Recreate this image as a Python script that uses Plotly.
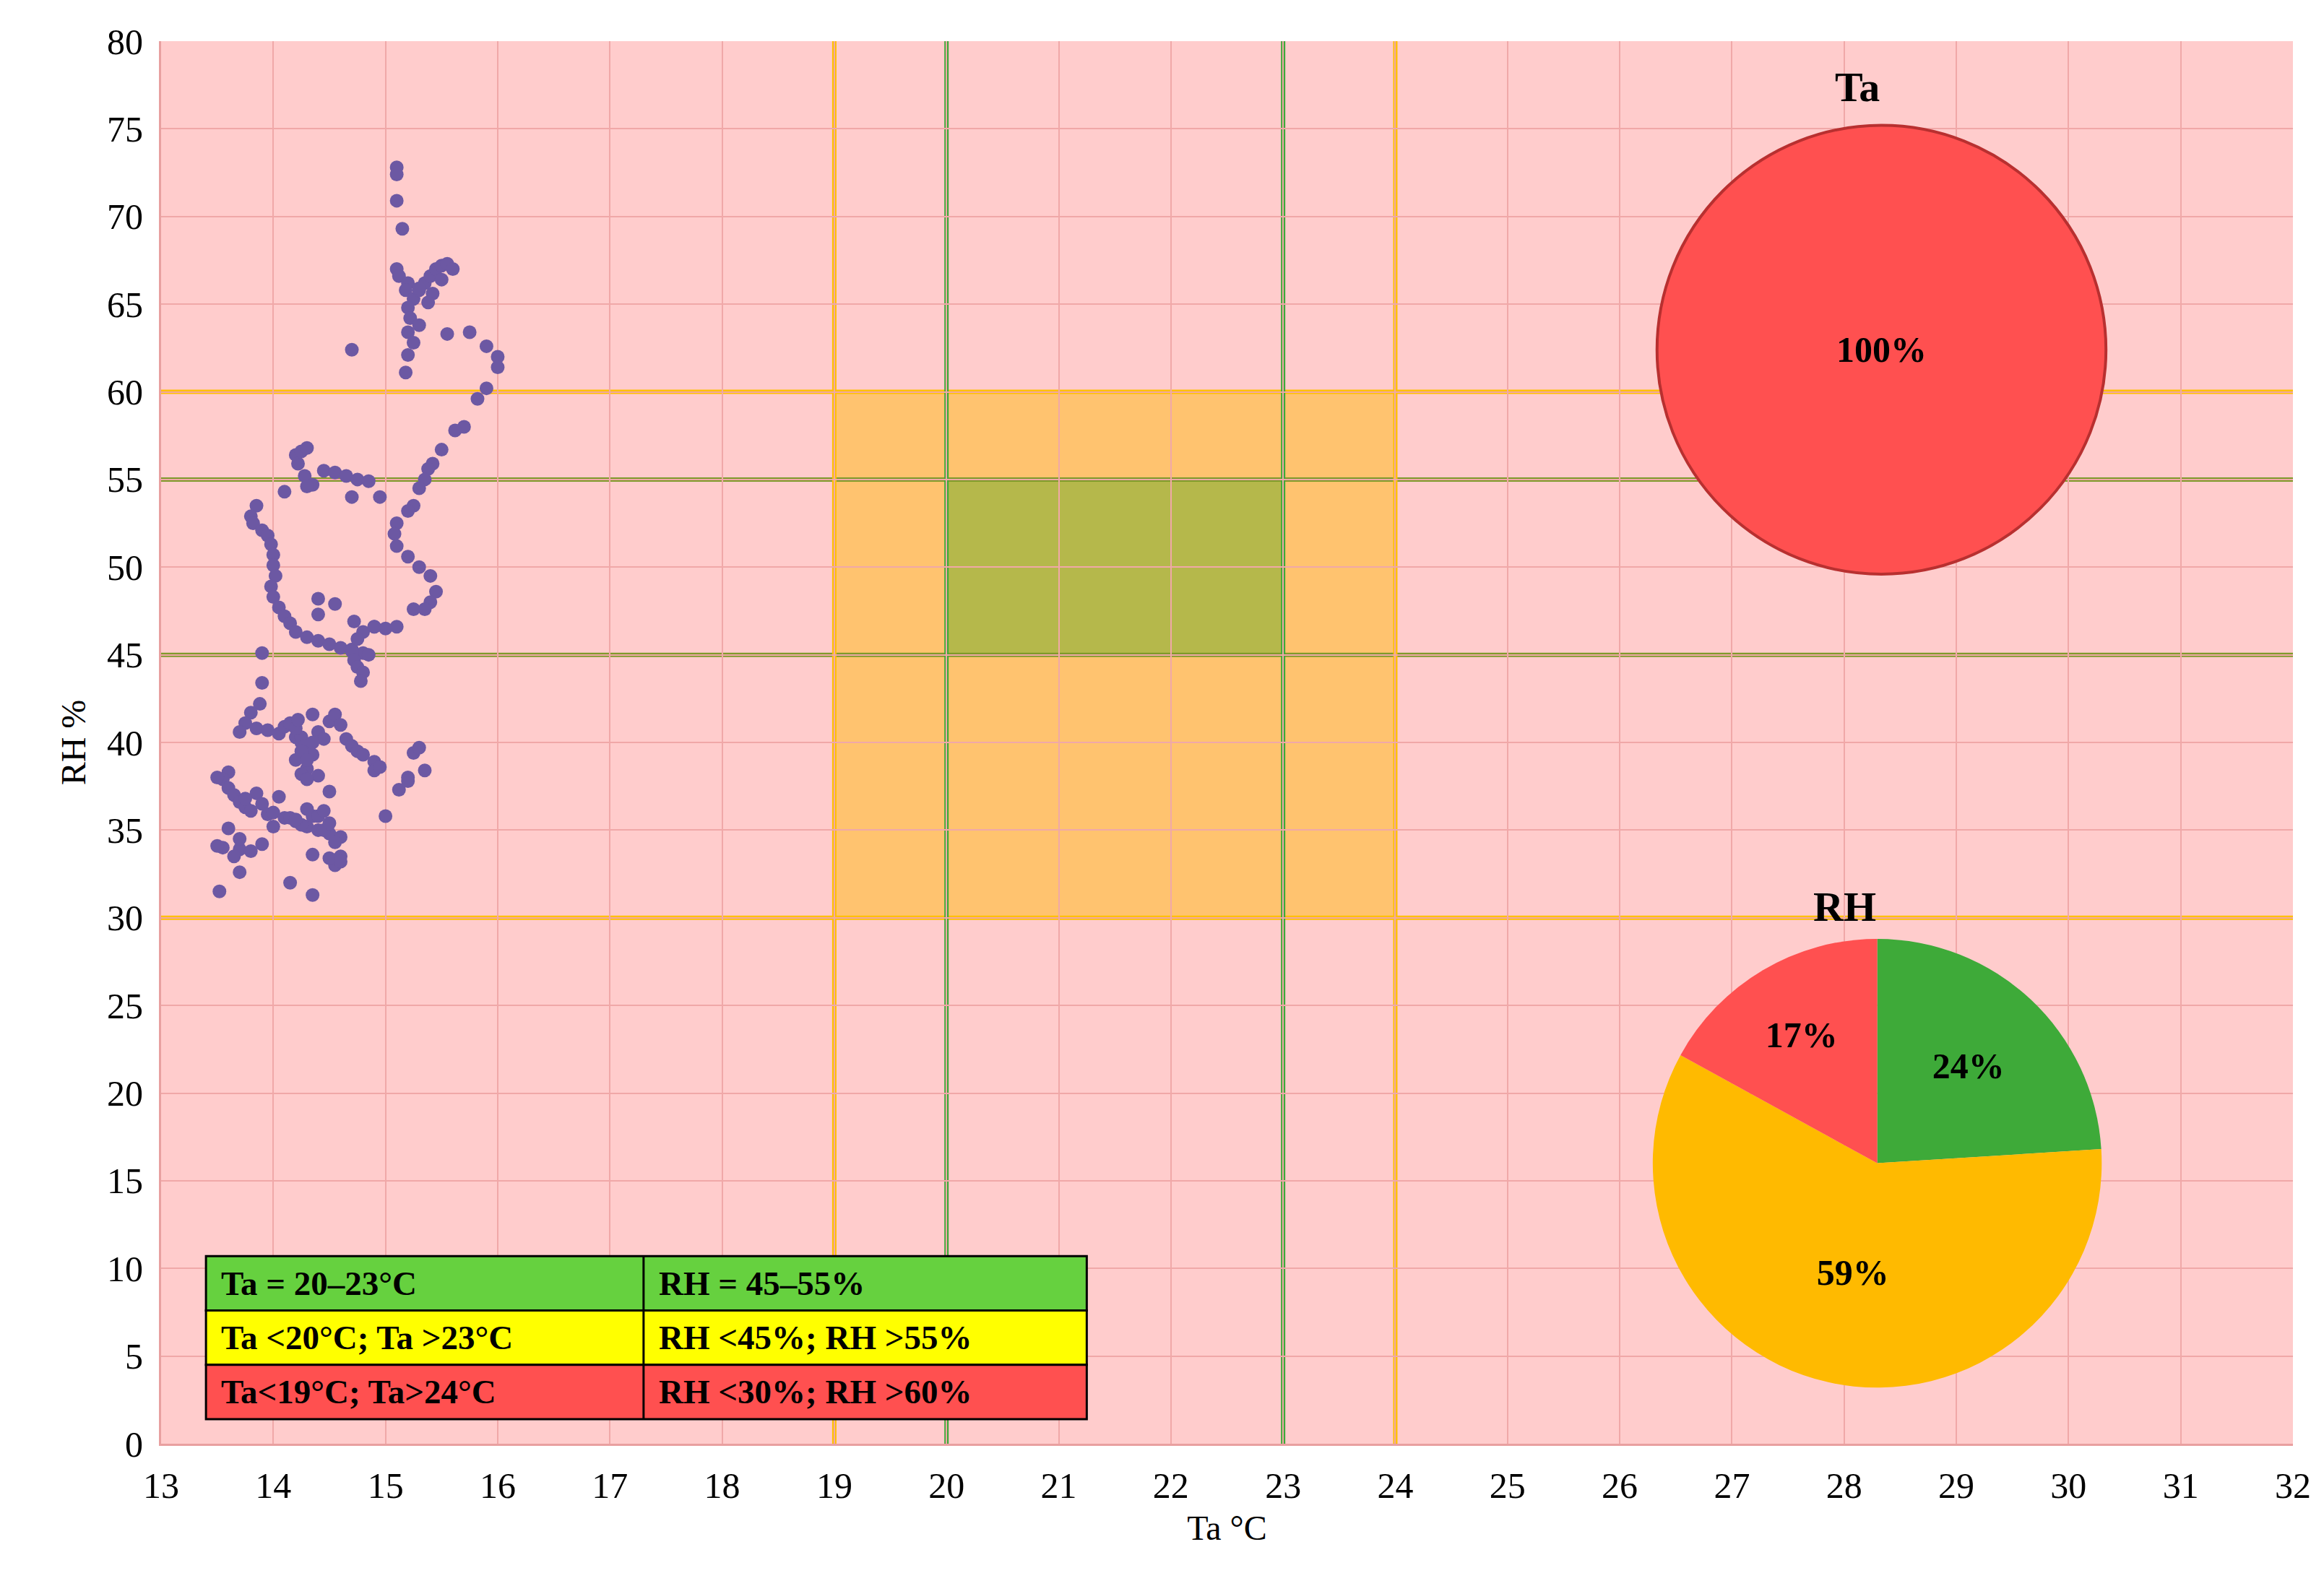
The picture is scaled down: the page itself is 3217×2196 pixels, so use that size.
import plotly.graph_objects as go

# measured points (Ta °C, RH %)
ta = [15.1, 15.1, 15.1, 15.15, 15.1, 15.12, 15.2, 15.18, 15.25, 15.2, 15.22, 15.3, 15.2, 15.25, 15.2, 15.18,
      15.3, 15.35, 15.4, 15.45, 15.5, 15.55, 15.6, 15.5, 15.42, 15.3, 15.38, 15.55, 15.75, 15.9, 16.0, 16.0, 14.7,
      15.9, 15.82, 15.7, 15.62, 15.5, 15.42, 15.38, 15.35, 15.3,
      14.2, 14.22, 14.25, 14.3, 14.28, 14.35, 14.45, 14.55, 14.65, 14.75, 14.85, 14.1, 14.3, 14.7, 14.95,
      13.85, 13.8, 13.82, 13.9, 13.95, 13.98, 14.0, 14.0, 14.02, 13.98, 14.0, 14.05, 14.1, 14.15, 14.2, 14.3, 14.4,
      14.5, 14.6, 14.7, 14.8, 14.85, 14.4, 14.4, 14.55,
      15.25, 15.2, 15.1, 15.08, 15.1, 15.2, 15.3, 15.4, 15.45, 15.4, 15.35, 15.25, 15.1, 15.0, 14.9, 14.8, 14.75,
      14.7, 14.72, 14.75, 14.8, 14.78, 14.72, 14.9,
      13.9, 13.9, 13.88, 13.8, 13.75, 13.7, 13.85, 13.95, 14.05, 14.1, 14.2, 14.25, 14.3, 14.35, 14.4, 14.45,
      14.5, 14.55, 14.6, 14.65, 14.7, 14.75, 14.8, 14.9, 14.2, 14.3, 14.25, 14.35, 14.15, 14.05, 14.4, 14.5,
      13.6, 13.55, 13.5, 13.6, 13.65, 13.7, 13.75, 13.8, 13.85, 13.9, 13.95, 14.0, 14.1, 14.2, 14.3, 14.4, 14.5,
      14.6, 14.55, 14.45, 14.35, 14.25, 14.15, 14.0, 13.9, 13.7, 13.65, 13.55, 13.5, 13.6, 13.7, 13.8, 13.75,
      14.3, 14.2, 14.4, 14.5, 14.6, 14.55, 14.5, 14.35, 14.6, 14.45, 14.15, 14.25, 14.28, 13.52, 14.35, 13.7,
      15.0, 15.12, 15.2, 15.25, 15.3, 15.35, 15.2, 14.9, 14.95, 14.2, 14.25, 14.3, 14.35, 14.22, 14.3]
rh = [72.8, 72.4, 70.9, 69.3, 67.0, 66.6, 66.2, 65.8, 65.3, 64.8, 64.2, 63.8, 63.4, 62.8, 62.1, 61.1,
      65.8, 66.2, 66.6, 67.0, 67.2, 67.3, 67.0, 66.4, 65.6, 65.9, 65.1, 63.3, 63.4, 62.6, 62.0, 61.4, 62.4,
      60.2, 59.6, 58.0, 57.8, 56.7, 55.9, 55.6, 55.0, 54.5,
      56.4, 55.9, 56.6, 56.8, 55.2, 54.7, 55.5, 55.4, 55.2, 55.0, 54.9, 54.3, 54.6, 54.0, 54.0,
      53.5, 52.9, 52.5, 52.1, 51.8, 51.3, 50.7, 50.1, 49.5, 48.9, 48.3, 47.7, 47.2, 46.8, 46.3, 46.0, 45.8,
      45.6, 45.4, 45.3, 45.1, 45.0, 48.2, 47.3, 47.9,
      53.5, 53.2, 52.5, 51.9, 51.2, 50.6, 50.0, 49.5, 48.6, 48.0, 47.6, 47.6, 46.6, 46.5, 46.6, 46.3, 45.9,
      45.2, 44.7, 44.3, 44.0, 43.5, 46.9, 46.6,
      45.1, 43.4, 42.2, 41.7, 41.1, 40.6, 40.8, 40.7, 40.5, 40.9, 40.3, 40.0, 39.6, 39.3, 40.6, 40.2, 41.2,
      41.6, 41.0, 40.2, 39.8, 39.5, 39.3, 38.9, 39.0, 38.5, 38.2, 41.6, 41.1, 36.9, 38.1, 37.2,
      38.3, 37.9, 38.0, 37.4, 37.0, 36.6, 36.3, 36.1, 37.1, 36.5, 35.9, 36.0, 35.7, 35.5, 35.2, 35.0, 34.8,
      34.6, 34.3, 35.0, 35.8, 35.3, 35.7, 35.2, 34.2, 33.9, 33.5, 34.0, 34.1, 35.1, 34.5, 33.8, 36.8,
      36.2, 35.6, 35.8, 35.4, 33.5, 33.0, 33.4, 33.6, 33.2, 36.1, 32.0, 40.3, 39.8, 31.5, 31.3, 32.6,
      35.8, 37.3, 38.0, 39.4, 39.7, 38.4, 37.8, 38.4, 38.6, 40.8, 39.5, 39.0, 40.0, 41.3, 37.9]

ta_labels = ["100%"]
ta_values = [100]
rh_labels = ["24%", "59%", "17%"]
rh_values = [24, 59, 17]
rh_colors = ["#3EAA39", "#FFBA00", "#FF5050"]

legend_rows = [("Ta = 20–23°C", "RH = 45–55%", "#66D13F"),
               ("Ta <20°C; Ta >23°C", "RH <45%; RH >55%", "#FFFF00"),
               ("Ta<19°C; Ta>24°C", "RH <30%; RH >60%", "#FF5050")]

font = "Liberation Serif"
fig = go.Figure()
fig.add_trace(go.Scatter(x=ta, y=rh, mode="markers", showlegend=False,
                         marker=dict(color="#6C58A3", size=19)))

fig.add_trace(go.Pie(labels=ta_labels, values=ta_values, domain=dict(x=[0.70, 0.914], y=[0.62, 0.94]),
                     marker=dict(colors=["#FF5050"], line=dict(color="#B83030", width=4)),
                     text=ta_labels, texttemplate="<b>%{text}</b>", textposition="inside", sort=False,
                     textfont=dict(family=font, size=50, color="black"), showlegend=False))
fig.add_trace(go.Pie(labels=rh_labels, values=rh_values, domain=dict(x=[0.698, 0.912], y=[0.04, 0.36]),
                     marker=dict(colors=rh_colors, line=dict(color="white", width=0)),
                     text=rh_labels, texttemplate="<b>%{text}</b>", textposition="inside", sort=False,
                     direction="clockwise", rotation=0, insidetextorientation="horizontal",
                     textfont=dict(family=font, size=50, color="black"), showlegend=False))

shapes = []
# comfort zones
shapes.append(dict(type="rect", x0=19, x1=24, y0=30, y1=60, fillcolor="rgba(255,192,80,0.75)",
                   line_width=0, layer="below"))
shapes.append(dict(type="rect", x0=20, x1=23, y0=45, y1=55, fillcolor="rgba(150,180,60,0.7)",
                   line_width=0, layer="below"))
for yv, c in [(30, "#FFC000"), (60, "#FFC000"), (45, "#7F9A2A"), (55, "#7F9A2A")]:
    shapes.append(dict(type="line", x0=13, x1=32, y0=yv, y1=yv, line=dict(color=c, width=6), layer="below"))
for xv, c in [(19, "#FFC000"), (24, "#FFC000"), (20, "#3EAA39"), (23, "#3EAA39")]:
    shapes.append(dict(type="line", x0=xv, x1=xv, y0=0, y1=80, line=dict(color=c, width=6), layer="below"))

annotations = []
row_h = 3.1
top = 10.7
for i, (a, b, c) in enumerate(legend_rows):
    y1 = top - i * row_h
    y0 = y1 - row_h
    shapes.append(dict(type="rect", x0=13.4, x1=21.25, y0=y0, y1=y1, fillcolor=c,
                       line=dict(color="black", width=3)))
    shapes.append(dict(type="line", x0=17.3, x1=17.3, y0=y0, y1=y1, line=dict(color="black", width=3)))
    annotations.append(dict(x=13.52, y=(y0 + y1) / 2, text="<b>" + a + "</b>", showarrow=False, xanchor="left",
                            font=dict(family=font, size=47, color="black")))
    annotations.append(dict(x=17.42, y=(y0 + y1) / 2, text="<b>" + b + "</b>", showarrow=False, xanchor="left",
                            font=dict(family=font, size=47, color="black")))

annotations.append(dict(x=0.807, y=0.985, xref="paper", yref="paper", text="<b>Ta</b>", showarrow=False,
                        font=dict(family=font, size=58, color="black")))
annotations.append(dict(x=0.805, y=0.365, xref="paper", yref="paper", text="<b>RH</b>", showarrow=False,
                        yanchor="bottom", font=dict(family=font, size=58, color="black")))

fig.update_layout(
    width=3217, height=2196,
    margin=dict(l=215, r=51, t=49, b=205),
    paper_bgcolor="white", plot_bgcolor="#FFCCCC",
    font=dict(family=font, size=50, color="black"),
    shapes=shapes, annotations=annotations,
    xaxis=dict(range=[13, 32], dtick=1, showgrid=True, gridcolor="#F0A8A8", gridwidth=2,
               zeroline=False, title=dict(text="Ta °C", font=dict(size=48)), ticks="",
               ticklabelstandoff=12,
               showline=True, linecolor="#E8A0A0", linewidth=3),
    yaxis=dict(range=[0, 80], dtick=5, showgrid=True, gridcolor="#F0A8A8", gridwidth=2,
               zeroline=False, title=dict(text="RH %", font=dict(size=48)), ticks="",
               ticklabelstandoff=12,
               showline=True, linecolor="#E8A0A0", linewidth=3),
)

fig.write_html("out.html")
